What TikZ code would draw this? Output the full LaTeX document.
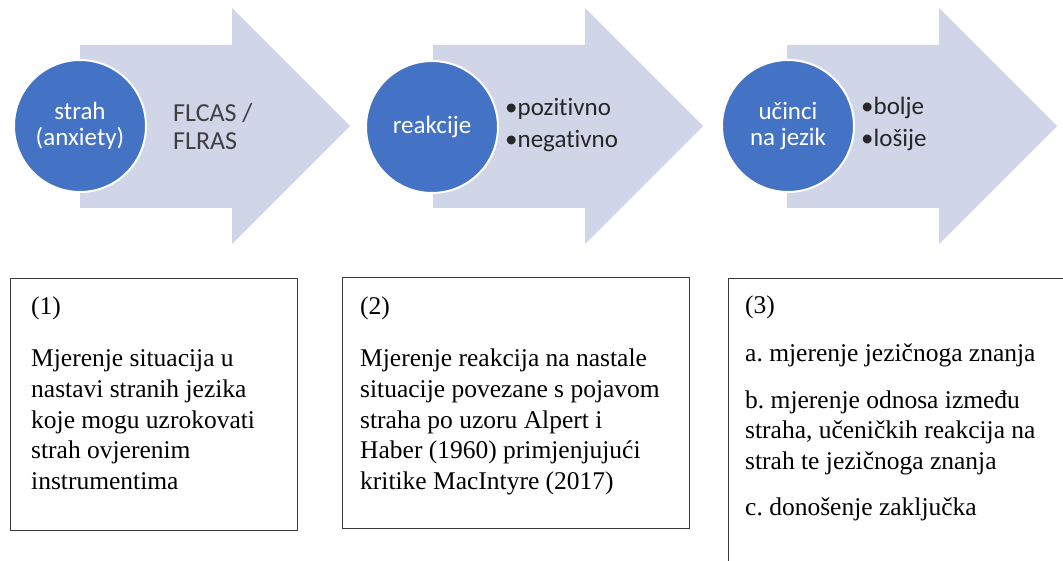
\documentclass[tikz,border=0pt]{standalone}
\usepackage{fontspec}
\setmainfont{Liberation Serif}
\newfontfamily\calib[Ligatures=NoCommon]{Carlito}
\frenchspacing
\definecolor{arrowfill}{HTML}{D0D5E8}
\definecolor{circblue}{HTML}{4472C4}
\definecolor{boxline}{HTML}{3A3A3A}
\definecolor{graytext}{HTML}{404040}
\definecolor{darktext}{HTML}{262626}
\tikzset{
  bigarrow/.style={fill=arrowfill, draw=none},
  circnode/.style={circle, fill=circblue, draw=white, line width=2bp, minimum size=132bp, inner sep=0pt,
    text=white, align=center, font=\calib\fontsize{25bp}{26bp}\selectfont},
  arrowtext/.style={anchor=west, align=left, inner sep=0pt, text=graytext, font=\calib\fontsize{26bp}{28bp}\selectfont},
  bullettext/.style={anchor=west, align=left, inner sep=0pt, text=darktext, font=\calib\fontsize{25bp}{32bp}\selectfont},
  boxframe/.style={draw=boxline, line width=1.3bp, fill=none, inner sep=0pt},
  boxtext/.style={anchor=base west, inner sep=0pt, text=black, font=\fontsize{25.5bp}{30.5bp}\selectfont},
}
\begin{document}
\begin{tikzpicture}[x=1bp,y=-1bp]
\useasboundingbox (0,0) rectangle (1063,561);
\clip (0,0) rectangle (1063,561);
\fill[white] (0,0) rectangle (1063,561);
% arrows
\foreach \xo in {80,433,787}{
  \path[bigarrow] (\xo,45) -- (\xo+152,45) -- (\xo+152,8) -- (\xo+270,126) -- (\xo+152,244) -- (\xo+152,208) -- (\xo,208) -- cycle;
}
% circles
\node[circnode] (c1) at (80,126) {strah\\(anxiety)};
\node[circnode] (c2) at (432,127) {reakcije};
\node[circnode] (c3) at (788,126) {učinci\\na jezik};
% arrow texts
\node[arrowtext] (t1) at (173,127) {FLCAS /\\FLRAS};
\node[bullettext] (t2) at (505,125) {•pozitivno\\•negativno};
\node[bullettext] (t3) at (861,124) {•bolje\\•lošije};
% boxes
\node[boxframe, anchor=north west, minimum width=287bp, minimum height=252bp] (b1) at (10,278) {};
\node[boxframe, anchor=north west, minimum width=347bp, minimum height=251bp] (b2) at (342,277) {};
\node[boxframe, anchor=north west, minimum width=360bp, minimum height=300bp] (b3) at (728,278) {};
% box texts
\node[boxtext] (n1) at (31,315) {(1)};
\node[boxtext] (p1) at (31,367) {\vtop{\hbox{Mjerenje situacija u}\hbox{nastavi stranih jezika}\hbox{koje mogu uzrokovati}\hbox{strah ovjerenim}\hbox{instrumentima}}};
\node[boxtext] (n2) at (360,315) {(2)};
\node[boxtext] (p2) at (360,367) {\vtop{\hbox{Mjerenje reakcija na nastale}\hbox{situacije povezane s pojavom}\hbox{straha po uzoru Alpert i}\hbox{Haber (1960) primjenjujući}\hbox{kritike MacIntyre (2017)}}};
\node[boxtext] (n3) at (745,314) {(3)};
\node[boxtext] (a3) at (745,362) {a. mjerenje jezičnoga znanja};
\node[boxtext] (bb3) at (745,408) {\vtop{\hbox{b. mjerenje odnosa između}\hbox{straha, učeničkih reakcija na}\hbox{strah te jezičnoga znanja}}};
\node[boxtext] (cc3) at (745,515) {c. donošenje zaključka};
\end{tikzpicture}
\end{document}
